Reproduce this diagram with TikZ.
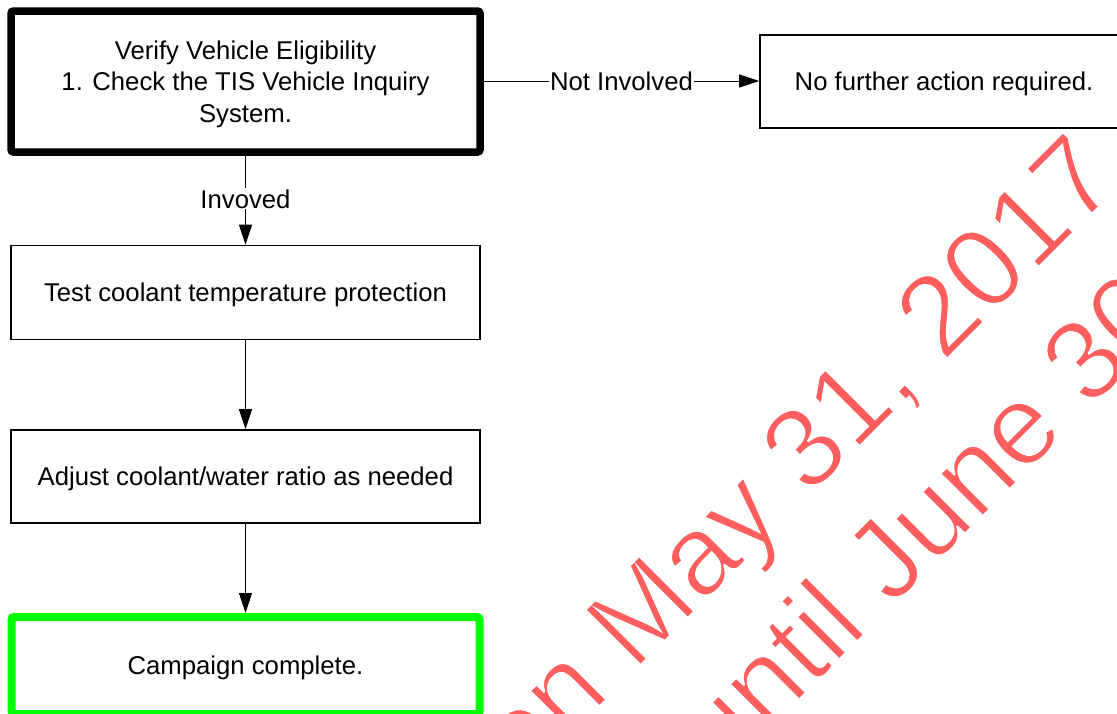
\documentclass[tikz,border=0pt]{standalone}
\usepackage{fontspec}
\setmainfont{Liberation Sans}
\usetikzlibrary{arrows.meta}
\definecolor{wmred}{RGB}{255,94,94}
\definecolor{okgreen}{RGB}{0,255,0}
\newcommand\tallfix{\rule{0pt}{0.91em}}
\newcommand\thinglyphs{\special{pdf:literal direct 1 1 1 RG 2.2 w 2 Tr}}
\newcommand\normalglyphs{\special{pdf:literal direct 0 Tr}}
\tikzset{
  basebox/.style={rectangle, draw=black, fill=white, inner sep=0pt, align=center,
    font=\fontsize{25.7}{31.5}\selectfont, text=black},
  thinbox/.style={basebox, line width=1.6pt},
  heavybox/.style={basebox, line width=7.5pt, rounded corners=2.5pt},
  donebox/.style={basebox, draw=okgreen, line width=8pt, rounded corners=2.5pt},
  flow/.style={draw=black, line width=1pt, -{Triangle[length=20pt,width=13pt]}},
  flowlabel/.style={fill=white, inner sep=1pt, font=\fontsize{25.7}{31.5}\selectfont, text=black},
  watermark/.style={text=wmred, inner sep=0pt, rotate=45, anchor=base west,
    font=\fontsize{114}{140}\selectfont}
}
\begin{document}
\begin{tikzpicture}[x=1pt,y=-1pt]
\useasboundingbox[fill=white] (0,0) rectangle (1117,713);

\node[heavybox, minimum width=469, minimum height=141] (verify) at (245.5,81.5)
  {\tallfix Verify Vehicle Eligibility\\1. Check the TIS Vehicle Inquiry\\System.};
\node[thinbox, minimum width=368, minimum height=93] (noaction) at (944,81.7)
  {\tallfix No further action required.};
\node[thinbox, minimum width=469, minimum height=94] (test) at (245.5,292.5)
  {\tallfix Test coolant temperature protection};
\node[thinbox, minimum width=469, minimum height=93] (adjust) at (245.5,476.5)
  {\tallfix Adjust coolant/water ratio as needed};
\node[donebox, minimum width=468, minimum height=97] (done) at (245.5,665.5)
  {\tallfix Campaign complete.};

\draw[flow] (verify.east |- 0,81) -- node[flowlabel] {Not Involved} (noaction.west |- 0,81);
\draw[flow] (verify.south) -- node[flowlabel, pos=0.485] {Invoved} (test.north);
\draw[flow] (test.south) -- (adjust.north);
\draw[flow] (adjust.south) -- (done.north);

\coordinate (wmA) at (634,672);
\coordinate (wmB) at (892,607);
\node[watermark] (wmline1) at (wmA) {\thinglyphs\llap{on }May 31, 2017\normalglyphs};
\node[watermark] (wmline2) at (wmB) {\thinglyphs\llap{until }June 30\normalglyphs};
\end{tikzpicture}
\end{document}
